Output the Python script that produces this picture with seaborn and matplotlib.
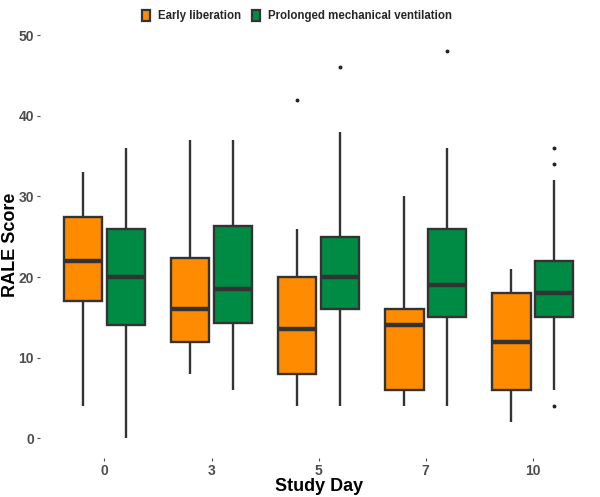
import numpy as np
import pandas as pd
import matplotlib
matplotlib.use('Agg')
import matplotlib.pyplot as plt
import seaborn as sns

# ------------------------------------------------------------------ #
# Data — box summaries (RALE score by study day)
# ------------------------------------------------------------------ #
DAYS = ['0', '3', '5', '7', '10']
GROUPS = ['Early liberation', 'Prolonged mechanical ventilation']

EARLY_LOW = [4, 8, 4, 4, 2]
EARLY_Q1 = [17, 12, 8, 6, 6]
EARLY_MED = [22, 16, 13.5, 14, 12]
EARLY_Q3 = [27.5, 22.3, 20, 16, 18]
EARLY_HIGH = [33, 37, 26, 30, 21]
EARLY_OUT = [[], [], [42], [], []]

PMV_LOW = [0, 6, 4, 4, 6]
PMV_Q1 = [14, 14.3, 16, 15, 15]
PMV_MED = [20, 18.5, 20, 19, 18]
PMV_Q3 = [26, 26.3, 25, 26, 22]
PMV_HIGH = [36, 37, 38, 36, 32]
PMV_OUT = [[], [], [46], [48], [4, 34, 36]]

COLORS = ['#FF8C00', '#008B45']


def box_values(low, q1, med, q3, high, outliers, k=20):
    """Long-form values whose quartiles / whiskers reproduce the summary."""
    return [low] + [q1] * k + [med] * k + [q3] * k + [high] + list(outliers)


rows = []
summaries = {
    GROUPS[0]: (EARLY_LOW, EARLY_Q1, EARLY_MED, EARLY_Q3, EARLY_HIGH, EARLY_OUT),
    GROUPS[1]: (PMV_LOW, PMV_Q1, PMV_MED, PMV_Q3, PMV_HIGH, PMV_OUT),
}
for group, (lo, q1, md, q3, hi, out) in summaries.items():
    for i, day in enumerate(DAYS):
        for v in box_values(lo[i], q1[i], md[i], q3[i], hi[i], out[i]):
            rows.append({'day': day, 'group': group, 'score': v})
df = pd.DataFrame(rows)

# ------------------------------------------------------------------ #
# Plot
# ------------------------------------------------------------------ #
sns.set_theme(style='white')
plt.rcParams['font.family'] = ['Liberation Sans', 'DejaVu Sans']

fig = plt.figure(figsize=(6.0, 4.97), dpi=100)
ax = fig.add_axes([0.067, 0.079, 0.928, 0.857])

sns.boxplot(
    data=df, x='day', y='score', hue='group',
    order=DAYS, hue_order=GROUPS, palette=COLORS,
    width=0.8, gap=0.1, linewidth=1.7, linecolor='#333333',
    showcaps=False, saturation=1,
    medianprops=dict(linewidth=3.2, color='#333333'),
    flierprops=dict(marker='o', markersize=1.8,
                    markerfacecolor='#222222', markeredgecolor='#222222'),
    ax=ax,
)

ax.set_xlim(-0.6, 4.6)
ax.set_ylim(-2.4, 50.4)
ax.set_yticks([0, 10, 20, 30, 40, 50])
for s in ax.spines.values():
    s.set_visible(False)
ax.tick_params(axis='both', length=2.5, width=0.8, color='#4D4D4D',
               labelsize=10, labelcolor='#4D4D4D', pad=2)
ax.tick_params(axis='x', bottom=True)
ax.tick_params(axis='y', left=True)
for lab in ax.get_xticklabels() + ax.get_yticklabels():
    lab.set_fontweight('bold')

ax.set_xlabel('Study Day', fontsize=13, fontweight='bold', color='black', labelpad=0)
ax.set_ylabel('RALE Score', fontsize=13, fontweight='bold', color='black', labelpad=-1)
ax.yaxis.set_label_coords(-0.038, 0.5)

handles, labels = ax.get_legend_handles_labels()
ax.get_legend().remove()
for h in handles:
    h.set_edgecolor('#333333')
    h.set_linewidth(1.6)
fig.legend(handles, labels, loc='upper center', bbox_to_anchor=(0.495, 1.0),
           ncol=2, frameon=False, handlelength=0.7, handleheight=1.0,
           handletextpad=0.7, columnspacing=0.9,
           prop=dict(weight='bold', size=8.3))

fig.savefig('out.png', dpi=100)
plt.close(fig)
